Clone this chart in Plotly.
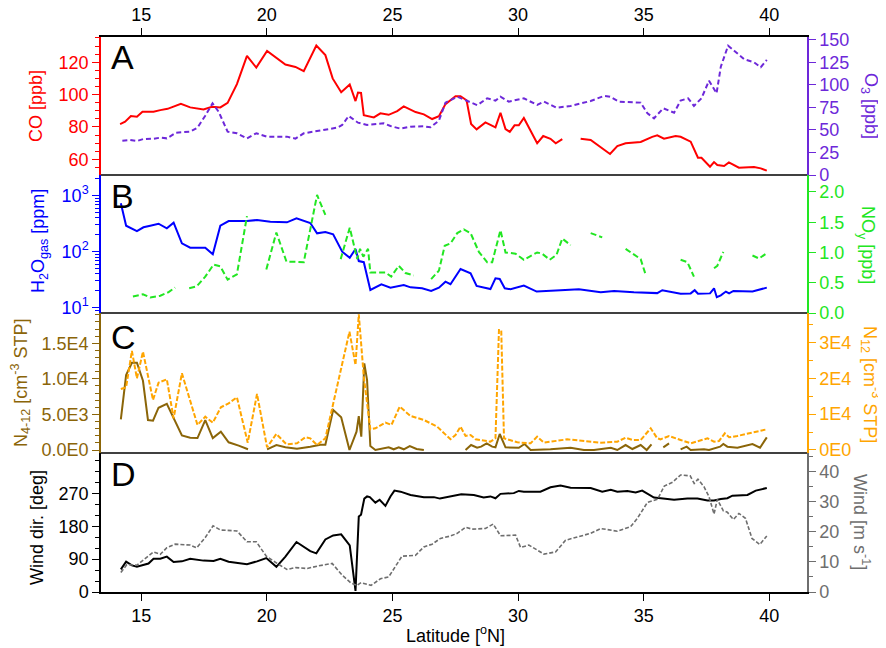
import plotly.graph_objects as go

N = None
# ---------------- Panel A ----------------
co_lat = [14.16,14.36,14.59,14.83,15.05,15.49,15.76,16.05,16.58,16.95,17.48,17.82,18.15,18.44,18.81,19.21,19.58,20.01,20.74,21.14,21.47,21.97,22.33,22.62,22.96,23.3,23.53,23.63,23.75,23.86,24.26,24.52,24.85,25.19,25.45,25.92,26.25,26.58,26.85,27.11,27.51,27.71,27.95,28.13,28.35,28.7,29.1,29.3,29.5,29.67,29.86,30.03,30.23,30.76,31.0,31.29,31.5,31.76,31.9,32.49,32.89,33.66,33.95,34.28,34.88,35.34,35.54,35.81,36.27,36.47,36.87,37.16,37.3,37.64,37.8,37.93,38.2,38.39,38.79,39.39,39.66,39.9]
co_val = [81.8,83.2,86.7,86.3,89.4,89.4,90.4,91.2,94.3,92.1,90.8,92.5,92.1,94.9,106.5,123.9,116.7,127,118.6,117.1,114.5,130.3,124.4,110,101.5,106.3,96,101.3,101.1,87.3,85.9,88.4,87.5,89.8,92.7,89.2,87.8,84.9,86.7,94.1,99,99,96.5,81.8,78.5,82.8,79.7,88.8,78.7,77,81,81,85.5,69.9,74.4,72.7,69.9,72.5,N,72.7,71.9,63.3,68.2,69.9,70.7,73.9,74.8,72.7,74.4,73.9,70.9,61,61,55.4,58.3,56.5,55.9,58.1,54.8,55.2,54.4,53]

o3_lat = [14.25,14.56,14.83,15.09,15.49,15.76,16.02,16.39,16.95,17.24,17.55,17.84,18.08,18.44,18.81,19.21,19.58,20.01,20.8,21.14,21.47,22.26,22.8,23.0,23.26,23.63,23.99,24.65,24.92,25.32,25.72,26.25,26.51,26.85,27.11,27.58,27.91,28.38,28.77,29.1,29.3,29.63,30.23,30.76,31.03,31.53,32.09,32.89,33.42,33.66,34.02,34.88,35.15,35.41,35.78,36.21,36.47,36.77,37.0,37.3,37.6,37.9,38.07,38.36,38.6,39.0,39.39,39.66,39.9]
o3_val = [38.1,38.9,37.8,40,40.3,41.5,40.7,47,48.1,52.6,65.9,79.6,70.4,48.1,46.3,40.7,46.3,42.6,42.6,40.4,46.3,50,52.6,55.6,65.6,58.1,55.6,57.4,54.4,51.5,53.7,54.1,53,60.4,80.4,87,83.3,77.5,85.2,82.6,87,81.5,85.2,77.8,81.5,74.8,76.7,82.2,87.8,87,81.5,80.4,68.5,63,74.1,69.2,82.6,85.2,76.7,85.2,104.8,90.7,120.3,143.7,138.1,128.5,125.2,119.7,127.8]

# ---------------- Panel B ----------------
h2o_lat = [14.19,14.4,14.83,15.09,15.36,15.69,16.02,16.29,16.62,16.95,17.55,17.85,18.15,18.48,19.21,19.61,20.14,20.8,21.18,21.73,22.0,22.33,22.64,23.0,23.3,23.53,23.66,23.86,24.12,24.56,24.92,25.45,25.72,26.18,26.54,26.85,27.11,27.31,27.71,28.11,28.35,28.9,29.1,29.27,29.47,29.7,30.23,30.74,31.69,32.42,33.29,33.82,34.61,35.54,35.74,36.47,36.87,37.03,37.16,37.64,37.8,37.91,38.07,38.27,38.4,38.57,39.33,39.9]
h2o_val = [731,291,234,273,291,316,262,330,141,118,118,90,291,353,353,368,343,335,395,325,213,225,205,100,78,112,68,65,20.7,26.2,22.8,25.4,23.1,22.2,19.9,22.8,29.1,26.2,49,41,24.4,21.5,33.5,32.5,22.2,21.3,24.8,19.4,20.5,21.3,18.8,19.9,18.8,18.2,20.5,17.8,18,20.5,17.7,18,22.2,15.4,16.6,19.4,18,19.9,19.4,22.8]

noy_lat = [14.67,14.89,15.07,15.36,15.76,16.09,16.35,16.6,
           16.91,17.21,17.55,17.88,18.15,18.44,18.81,19.21,19.5,
           19.98,20.38,20.78,21.47,22.0,22.33,22.6,
           22.94,23.3,23.6,23.71,23.84,24.03,24.12,24.72,24.95,25.25,25.52,25.85,26.2,
           26.54,26.85,27.08,27.31,27.58,27.84,28.11,28.44,28.77,28.97,29.3,29.5,29.9,30.23,30.76,30.96,31.26,31.53,31.76,32.09,32.5,
           32.89,33.35,33.8,
           34.28,34.88,35.08,35.8,
           36.47,36.74,37.0,37.4,
           37.8,37.93,38.17,38.8,
           39.33,39.59,39.9]
noy_val = [0.273,0.29,0.31,0.257,0.285,0.345,0.42,N,
           0.41,0.44,0.6,0.8,0.77,0.55,0.64,1.6,N,
           0.72,1.33,0.85,0.84,1.95,1.62,N,
           0.89,1.41,0.89,1.06,0.93,1.06,0.67,0.67,0.6,0.78,0.66,0.62,N,
           0.56,0.7,1.11,1.15,1.32,1.38,1.32,1.01,0.84,0.84,1.37,1.0,0.98,0.88,1.0,0.98,0.88,0.96,1.23,1.12,N,
           1.32,1.25,N,
           1.06,0.89,0.63,N,
           0.88,0.84,0.6,N,
           0.74,0.78,1.01,N,
           0.95,0.9,0.99]

# ---------------- Panel C ----------------
n412_lat = [14.19,14.4,14.63,14.83,15.07,15.27,15.47,15.69,16.02,16.29,16.62,16.95,17.24,17.55,17.85,18.17,18.48,18.88,19.25,19.6,
            20.01,20.38,20.74,21.2,21.73,22.13,22.33,22.64,22.96,23.29,23.57,23.66,23.76,23.88,23.99,24.12,24.32,24.85,25.05,25.25,25.45,25.69,25.96,26.25,27.0,
            27.91,28.13,28.37,28.53,28.75,28.97,29.1,29.27,29.5,30.03,30.26,30.5,31.29,32.09,32.62,33.02,33.69,33.95,34.28,34.55,34.88,35.12,35.31,35.5,
            35.78,36.01,36.2,
            36.47,36.71,36.87,37.4,37.6,37.86,38.04,38.17,38.33,38.73,39.33,39.63,39.9]
n412_val = [4310,10530,12260,12260,9730,4210,4120,5940,6500,4590,2060,1730,1680,4210,1680,2570,1080,610,100,N,
            100,700,380,190,470,750,750,5620,4590,0,2570,4770,1870,12170,9830,560,0,380,100,380,100,560,140,0,N,
            0,700,320,470,940,470,380,2250,380,320,840,0,100,320,0,0,320,0,700,140,700,0,800,N,
            380,940,N,
            100,470,0,100,0,320,470,840,470,320,840,320,1780]

n12_lat = [14.19,14.4,14.63,14.83,15.07,15.47,15.69,16.02,16.29,16.62,17.24,17.55,17.85,18.17,18.48,18.81,19.24,19.61,20.01,20.38,20.78,21.2,21.53,21.73,22.0,22.33,22.96,23.29,23.53,23.66,23.86,24.12,24.32,24.72,24.96,25.29,25.72,26.25,26.78,27.31,27.51,27.71,27.91,28.11,28.31,28.9,29.1,29.24,29.33,29.44,29.97,30.5,30.76,31.03,31.96,33.29,33.95,34.28,34.55,34.88,35.28,35.54,35.67,36.01,36.47,36.87,37.54,37.8,38.0,38.23,38.4,38.73,39.9]
n12_val = [17000,17470,27580,19970,27390,13930,18750,19700,8830,21370,6970,9280,7610,11890,13000,14680,2040,15600,750,4460,1590,1860,3540,3250,1390,3250,22760,32960,23680,37800,20420,5760,6030,7610,6970,12070,9470,8360,6500,3000,4180,6500,3900,4180,2970,2320,3250,33430,33430,3250,2140,1860,3710,2040,2970,2040,2320,3430,2790,2790,6040,3250,2970,3900,2790,1860,3250,2320,2510,4640,3540,3900,5760]

# ---------------- Panel D ----------------
wd_lat = [14.19,14.4,14.63,14.83,15.29,15.49,15.76,16.02,16.29,16.62,16.95,17.48,17.88,18.15,18.48,19.21,19.61,19.98,20.38,20.74,21.18,21.47,21.73,21.97,22.33,22.64,22.96,23.3,23.53,23.66,23.75,23.88,23.99,24.1,24.32,24.49,24.72,24.92,25.08,25.32,25.72,26.25,26.65,26.89,27.31,27.74,28.24,28.63,28.9,29.1,29.3,29.83,30.03,30.23,30.89,31.29,31.69,32.09,32.89,33.35,33.69,33.95,34.35,34.68,34.94,35.41,35.68,36.21,36.74,37.14,37.54,37.8,38.07,38.33,38.53,39.13,39.46,39.9]
wd_val = [62,83,73,69,78,91,91,97,82,84,91,86,85,91,83,76,84,93,69,97,137,125,112,106,144,155,158,128,3,207,212,256,262,260,245,253,236,262,278,275,266,260,260,256,262,268,266,259,262,257,269,271,277,275,275,287,292,286,285,275,280,275,277,273,278,259,257,253,256,256,251,251,255,257,264,266,278,285]

ws_lat = [14.19,14.43,14.83,15.16,15.49,15.76,16.02,16.35,16.95,17.21,17.55,17.86,18.15,18.81,19.21,19.58,19.98,20.41,20.8,21.14,21.61,22.0,22.6,23.0,23.35,23.59,23.75,24.15,24.52,24.85,25.38,25.92,26.25,26.58,26.91,27.31,27.58,27.91,28.17,28.7,29.01,29.3,29.9,30.1,30.43,31.03,31.49,31.89,32.36,32.89,33.29,33.95,34.48,34.75,35.15,35.55,35.82,36.15,36.47,36.85,37.01,37.16,37.4,37.6,37.8,37.93,38.17,38.33,38.57,38.79,39.05,39.31,39.62,39.9]
ws_val = [6.5,9.1,8.9,11.1,13.3,12.5,14.7,15.9,15.6,14.7,18.1,22,20.6,20.3,16.7,16.7,11.9,9.5,7.5,8.1,7.8,8.6,9.5,5.6,3,2.2,3.1,2.2,4.4,5,11.9,12.2,15,15.9,17.8,18.6,19.5,21.5,20.9,21.1,22.6,18.7,18.9,14.8,15.6,12.6,13.3,17.2,18.3,19.5,21.1,20.2,21.7,24.5,29.8,30.8,35.2,36.5,38.9,38.6,36.1,37.5,35,31.7,25.9,30.8,27,26.5,24.1,26.1,24.5,17.8,15.8,18.6]

x_ticks = [15, 20, 25, 30, 35, 40]
co_ticks = [60, 80, 100, 120]
o3_ticks = [0, 25, 50, 75, 100, 125, 150]
h2o_ticks = [10, 100, 1000]
h2o_ticktext = ["10<sup>1</sup>", "10<sup>2</sup>", "10<sup>3</sup>"]
noy_ticks = [0.0, 0.5, 1.0, 1.5, 2.0]
noy_ticktext = ["0.0", "0.5", "1.0", "1.5", "2.0"]
n412_ticks = [0, 5000, 10000, 15000]
n412_ticktext = ["0.0E0", "5.0E3", "1.0E4", "1.5E4"]
n12_ticks = [0, 10000, 20000, 30000]
n12_ticktext = ["0E0", "1E4", "2E4", "3E4"]
wd_ticks = [0, 90, 180, 270]
ws_ticks = [0, 10, 20, 30, 40]

RED = "#ff0000"
PURPLE = "#6d28d9"
BLUE = "#0000ff"
GREEN = "#22e622"
BROWN = "#8b6508"
ORANGE = "#ffa500"
BLACK = "#000000"
GRAY = "#6e6e6e"
FONT = "Liberation Sans, Arial, sans-serif"
FS = 18

# The page body has an 8 px margin, so the figure is offset by 8 px.
OFF = 8
PL, PR, PT, PB = 101, 807, 37, 592   # plot area in window pixels
W, HGT = 878, 640

fig = go.Figure()
def add(x, y, ya, color, dash="solid", width=2):
    fig.add_trace(go.Scatter(x=x, y=y, xaxis="x", yaxis=ya, mode="lines",
                             line=dict(color=color, width=width, dash=dash),
                             connectgaps=False, showlegend=False, hoverinfo="skip"))

add(o3_lat, o3_val, "y2", PURPLE, dash="5px,3px")
add(co_lat, co_val, "y", RED)
add(noy_lat, noy_val, "y4", GREEN, dash="6px,3px")
add(h2o_lat, h2o_val, "y3", BLUE)
add(n12_lat, n12_val, "y6", ORANGE, dash="5px,2px")
add(n412_lat, n412_val, "y5", BROWN)
add(ws_lat, ws_val, "y8", GRAY, dash="4px,2px", width=1.6)
add(wd_lat, wd_val, "y7", BLACK)
fig.add_trace(go.Scatter(x=[20], y=[100], xaxis="x2", yaxis="y", mode="markers",
                         marker=dict(opacity=0), showlegend=False, hoverinfo="skip"))

H = float(PB - PT)
WD = float(PR - PL)
def py(p):
    return (PB - p) / H
def px(p):
    return (p - PL) / WD

dA = [py(175), 1.0]
dB = [py(313), py(175)]
dC = [py(453), py(313)]
dD = [0.0, py(453)]
XR = [13.4, 41.5]

def yax(domain, rng, color, tickvals, ticktext=None, side="left", overlay=None, minor_dtick=None, typ="linear", minor_vals=None):
    d = dict(domain=domain, range=rng, type=typ, anchor="x", side=side,
             showline=True, linecolor=color, linewidth=1.5, ticks="outside", ticklen=7,
             tickwidth=1.2, tickcolor=color, tickvals=tickvals,
             tickfont=dict(color=color, size=FS, family=FONT),
             showgrid=False, zeroline=False, fixedrange=True, automargin=False)
    if ticktext is not None:
        d["ticktext"] = ticktext
    if overlay:
        d["overlaying"] = overlay
    if minor_dtick is not None:
        d["minor"] = dict(dtick=minor_dtick, ticks="outside", ticklen=4, tickcolor=color, tickwidth=1, showgrid=False)
    if minor_vals is not None:
        d["minor"] = dict(tickmode="array", tickvals=minor_vals, ticks="outside", ticklen=4, tickcolor=color, tickwidth=1, showgrid=False)
    return d

log_minor = [v * m for v in (1, 10, 100, 1000) for m in range(2, 10)]

fig.update_layout(
    width=W, height=HGT,
    margin=dict(l=PL - OFF, r=W - (PR - OFF), t=PT - OFF, b=HGT - (PB - OFF), autoexpand=False),
    paper_bgcolor="white", plot_bgcolor="white",
    font=dict(family=FONT, size=FS, color="black"),
    showlegend=False,
    xaxis=dict(domain=[0, 1], range=XR, anchor="y7", side="bottom", showline=True, linecolor="black",
               linewidth=1.5, ticks="outside", ticklen=7, tickcolor="black", tickvals=x_ticks,
               tickfont=dict(size=FS, family=FONT, color="black"), showgrid=False, zeroline=False,
               fixedrange=True, automargin=False),
    xaxis2=dict(range=XR, overlaying="x", anchor="y", side="top", showline=True, linecolor="black",
                linewidth=1.5, ticks="outside", ticklen=7, tickcolor="black", tickvals=x_ticks,
                tickfont=dict(size=FS, family=FONT, color="black"), showgrid=False, zeroline=False,
                fixedrange=True, automargin=False),
    yaxis=yax(dA, [50.3, 135.6], RED, co_ticks, minor_dtick=5),
    yaxis2=yax(dA, [0, 153.3], PURPLE, o3_ticks, side="right", overlay="y"),
    yaxis3=yax(dB, [0.905, 3.37], BLUE, h2o_ticks, h2o_ticktext, typ="log", minor_vals=log_minor),
    yaxis4=yax(dB, [0, 2.28], GREEN, noy_ticks, noy_ticktext, side="right", overlay="y3"),
    yaxis5=yax(dC, [-420, 19250], BROWN, n412_ticks, n412_ticktext, minor_dtick=1000),
    yaxis6=yax(dC, [-840, 38160], ORANGE, n12_ticks, n12_ticktext, side="right", overlay="y5", minor_dtick=5000),
    yaxis7=yax(dD, [0, 381], BLACK, wd_ticks, minor_dtick=30),
    yaxis8=yax(dD, [0, 46.2], GRAY, ws_ticks, side="right", overlay="y7", minor_dtick=5),
)

for yy in (py(175), py(313), py(453)):
    fig.add_shape(type="line", xref="paper", yref="paper", x0=0, x1=1, y0=yy, y1=yy,
                  line=dict(color="black", width=1.5))

ann = []
for letter, yc in (("A", 57), ("B", 196.5), ("C", 336.5), ("D", 474.5)):
    ann.append(dict(text=letter, x=px(109), y=py(yc), xref="paper", yref="paper", xanchor="left",
                    yanchor="middle", showarrow=False, font=dict(size=34, family=FONT, color="black")))

def title(text, xpix, ypix, color, angle):
    ann.append(dict(text=text, x=px(xpix), y=py(ypix), xref="paper", yref="paper", xanchor="center",
                    yanchor="middle", showarrow=False, textangle=angle, font=dict(size=FS, family=FONT, color=color)))

title("CO [ppb]", 36, 106, RED, -90)
title("H<sub>2</sub>O<sub>gas</sub> [ppm]", 39, 241, BLUE, -90)
title("N<sub>4-12</sub> [cm<sup>-3</sup> STP]", 20, 383, BROWN, -90)
title("Wind dir. [deg]", 37, 528, BLACK, -90)
title("O<sub>3</sub> [ppb]", 869, 106, PURPLE, 90)
title("NO<sub>y</sub> [ppb]", 866, 245, GREEN, 90)
title("N<sub>12</sub> [cm<sup>-3</sup> STP]", 871, 384, ORANGE, 90)
title("Wind [m s<sup>-1</sup>]", 862, 522, GRAY, 90)
title("Latitude [<sup>o</sup>N]", 455, 634, BLACK, 0)
fig.update_layout(annotations=ann)

fig.write_html("out.html")
